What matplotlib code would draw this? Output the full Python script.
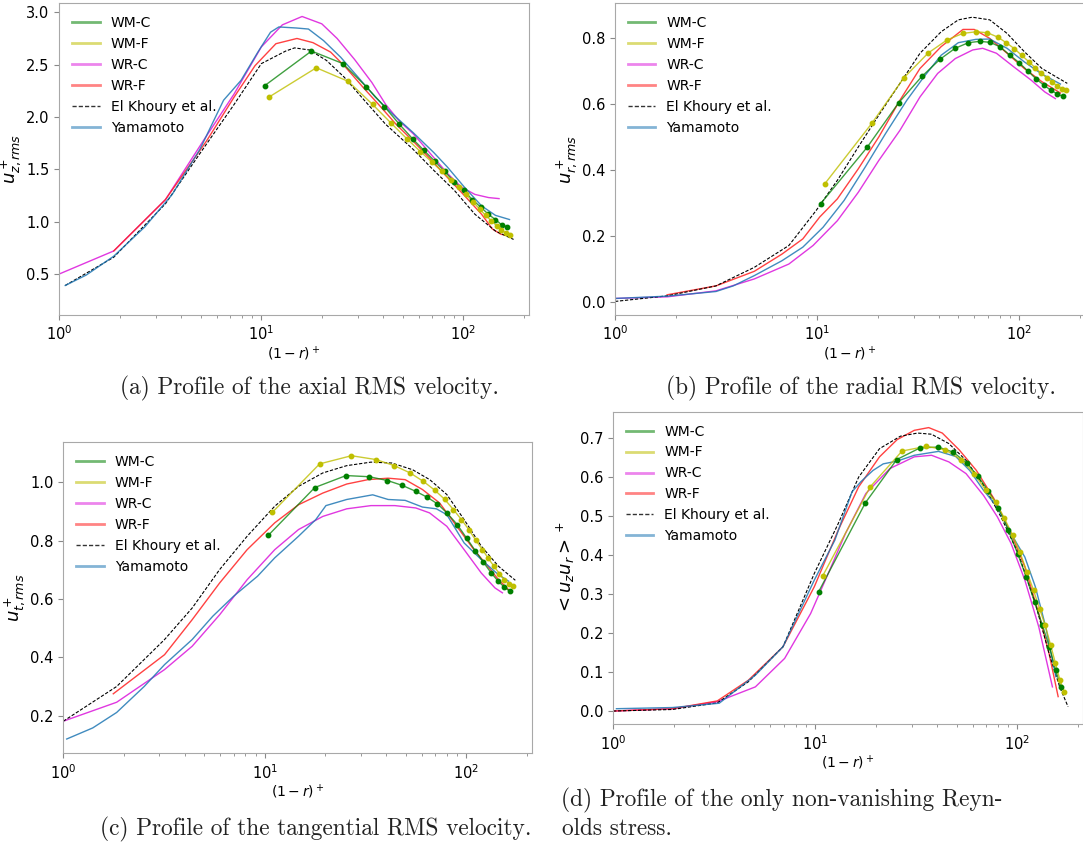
import matplotlib
matplotlib.use("Agg")
import matplotlib.pyplot as plt
from matplotlib.lines import Line2D

# ---------------- data ----------------
labels = ["WM-C", "WM-F", "WR-C", "WR-F", "El Khoury et al.", "Yamamoto"]

# wall-modelled grid points (shared across panels)
wmc_x = [10.4, 17.7, 25.3, 33.0, 40.6, 48.2, 56.1, 63.8, 71.9, 80.6, 90.1, 100.2,
         110.6, 121.5, 132.9, 143.8, 154.5, 164.1]
wmf_x = [10.9, 18.7, 26.9, 35.5, 43.9, 52.6, 61.2, 69.7, 78.2, 86.3, 94.6, 102.8,
         111.4, 120.1, 128.6, 137.1, 146.0, 154.2, 162.4, 170.2]

# (a) axial RMS
a_wmc = [2.30, 2.63, 2.51, 2.29, 2.10, 1.93, 1.79, 1.68, 1.58, 1.48, 1.38, 1.30,
         1.21, 1.14, 1.07, 1.02, 0.97, 0.95]
a_wmf = [2.19, 2.47, 2.34, 2.12, 1.94, 1.79, 1.67, 1.57, 1.48, 1.40, 1.33, 1.26,
         1.19, 1.12, 1.06, 1.01, 0.96, 0.92, 0.89, 0.87]
a_wrc_x = [1.0, 1.86, 3.35, 5.15, 7.33, 10.0, 12.7, 15.9, 19.9, 23.7, 28.9, 35.2,
           41.2, 48.2, 56.4, 68.6, 83.4, 97.6, 114, 133, 150]
a_wrc = [0.50, 0.72, 1.21, 1.77, 2.22, 2.67, 2.88, 2.96, 2.89, 2.75, 2.55, 2.33,
         2.12, 1.96, 1.84, 1.65, 1.46, 1.33, 1.26, 1.23, 1.22]
a_wrf_x = [1.86, 3.35, 5.35, 7.33, 9.3, 11.8, 15.0, 18.0, 22.0, 25.7, 32.3, 38.0,
           46.4, 56.3, 68.5, 83.5, 101, 123, 139, 153, 162]
a_wrf = [0.72, 1.21, 1.77, 2.19, 2.49, 2.70, 2.75, 2.71, 2.62, 2.49, 2.27, 2.12,
         1.93, 1.77, 1.60, 1.42, 1.25, 1.07, 0.93, 0.88, 0.87]
a_elk_x = [1.07, 1.86, 3.35, 4.96, 7.33, 10.0, 13.2, 14.6, 17.3, 21.0, 25.7, 32.3,
           41.2, 56.4, 71.3, 90.0, 114, 144, 177]
a_elk = [0.39, 0.66, 1.17, 1.65, 2.12, 2.51, 2.63, 2.66, 2.64, 2.54, 2.38, 2.16,
         1.93, 1.69, 1.49, 1.30, 1.07, 0.91, 0.83]
a_yam_x = [1.07, 1.36, 1.86, 2.65, 3.62, 4.96, 6.5, 7.93, 9.61, 11.1, 12.2, 14.9,
           17.1, 20.3, 24.7, 30.1, 36.6, 44.5, 56.4, 71.3, 83.4, 101, 123, 144, 169]
a_yam = [0.39, 0.49, 0.67, 0.95, 1.26, 1.69, 2.16, 2.35, 2.62, 2.81, 2.86, 2.85,
         2.84, 2.73, 2.57, 2.38, 2.19, 2.03, 1.85, 1.66, 1.52, 1.33, 1.15, 1.06, 1.02]

# (b) radial RMS
b_wmc = [0.298, 0.469, 0.603, 0.683, 0.735, 0.768, 0.785, 0.789, 0.786, 0.772,
         0.747, 0.724, 0.699, 0.675, 0.656, 0.641, 0.630, 0.623]
b_wmf = [0.358, 0.542, 0.679, 0.754, 0.793, 0.813, 0.818, 0.815, 0.802, 0.785,
         0.767, 0.747, 0.728, 0.709, 0.693, 0.678, 0.666, 0.654, 0.646, 0.641]
b_wrc_x = [1.0, 1.82, 3.16, 4.89, 7.25, 9.55, 12.6, 16.0, 20.2, 25.7, 32.3, 39.5,
           48.3, 58.9, 66.0, 77.2, 94.0, 114.5, 134, 151]
b_wrc = [0.012, 0.017, 0.035, 0.071, 0.116, 0.172, 0.247, 0.333, 0.429, 0.520,
         0.621, 0.692, 0.737, 0.763, 0.768, 0.753, 0.712, 0.672, 0.636, 0.616]
b_wrf_x = [1.81, 3.16, 4.89, 6.7, 8.5, 10.3, 12.6, 16.0, 20.2, 25.7, 32.3, 41.1,
           52.7, 59.9, 71.5, 87.1, 106, 129.6, 160]
b_wrf = [0.023, 0.050, 0.094, 0.146, 0.192, 0.258, 0.313, 0.404, 0.500, 0.611,
         0.707, 0.773, 0.825, 0.825, 0.798, 0.753, 0.707, 0.667, 0.633]
b_elk_x = [1.0, 1.82, 3.16, 4.89, 7.25, 9.9, 12.6, 16.0, 20.2, 25.7, 32.3, 41.1,
           50.0, 58.6, 71.5, 87.1, 106, 129.6, 173]
b_elk = [0.003, 0.020, 0.050, 0.106, 0.172, 0.278, 0.369, 0.470, 0.566, 0.662,
         0.753, 0.818, 0.854, 0.862, 0.854, 0.813, 0.758, 0.707, 0.662]
b_yam_x = [1.0, 1.82, 3.16, 3.85, 4.89, 6.7, 8.5, 10.7, 13.6, 17.3, 21.8, 27.8,
           33.8, 41.1, 50.0, 61.0, 71.5, 87.1, 106, 129.6, 160]
b_yam = [0.012, 0.019, 0.033, 0.050, 0.081, 0.126, 0.167, 0.227, 0.308, 0.409,
         0.510, 0.611, 0.682, 0.747, 0.785, 0.795, 0.796, 0.768, 0.727, 0.690, 0.660]

# (c) tangential RMS
c_wmc = [0.818, 0.982, 1.023, 1.019, 1.006, 0.989, 0.969, 0.949, 0.926, 0.893,
         0.855, 0.809, 0.766, 0.726, 0.689, 0.661, 0.640, 0.627]
c_wmf = [0.897, 1.063, 1.091, 1.078, 1.057, 1.032, 1.003, 0.973, 0.941, 0.906,
         0.872, 0.838, 0.801, 0.769, 0.739, 0.712, 0.687, 0.666, 0.653, 0.646]
c_wrc_x = [1.0, 1.84, 3.18, 4.36, 5.97, 8.17, 11.2, 14.7, 19.4, 25.5, 33.6, 44.2,
           56.1, 65.7, 80.0, 97.5, 118.6, 138.6, 151]
c_wrc = [0.181, 0.246, 0.358, 0.438, 0.546, 0.666, 0.769, 0.838, 0.883, 0.909,
         0.920, 0.920, 0.912, 0.895, 0.849, 0.769, 0.689, 0.638, 0.621]
c_wrf_x = [1.77, 3.18, 4.36, 5.97, 8.17, 11.2, 14.7, 19.4, 25.5, 32.5, 40.9, 49.7,
           60.6, 73.7, 89.7, 109, 128, 144.4, 162]
c_wrf = [0.275, 0.409, 0.529, 0.655, 0.769, 0.861, 0.923, 0.963, 0.994, 1.009,
         1.014, 1.009, 0.975, 0.929, 0.849, 0.769, 0.712, 0.666, 0.632]
c_elk_x = [1.0, 1.84, 3.18, 4.36, 5.97, 8.17, 11.2, 14.7, 19.4, 25.5, 33.6, 42.7,
           54.1, 65.8, 80.0, 97.5, 118.6, 144.4, 175]
c_elk = [0.181, 0.300, 0.461, 0.569, 0.701, 0.815, 0.918, 0.986, 1.032, 1.057,
         1.069, 1.066, 1.043, 1.009, 0.958, 0.872, 0.781, 0.712, 0.664]
c_yam_x = [1.04, 1.4, 1.84, 2.52, 3.18, 4.36, 5.52, 6.99, 9.2, 11.2, 14.7, 17.9,
           20.1, 25.5, 34.3, 40.9, 49.7, 60.6, 71.0, 80.0, 97.5, 118.6, 144.4, 162]
c_yam = [0.120, 0.158, 0.211, 0.300, 0.375, 0.461, 0.541, 0.609, 0.678, 0.741,
         0.815, 0.872, 0.920, 0.941, 0.957, 0.941, 0.938, 0.915, 0.909, 0.889,
         0.792, 0.735, 0.683, 0.661]

# (d) Reynolds stress
d_wmc = [0.306, 0.534, 0.645, 0.675, 0.677, 0.664, 0.636, 0.602, 0.564, 0.522,
         0.464, 0.404, 0.344, 0.280, 0.220, 0.165, 0.105, 0.062]
d_wmf = [0.347, 0.575, 0.667, 0.679, 0.670, 0.645, 0.609, 0.566, 0.536, 0.494,
         0.451, 0.408, 0.357, 0.310, 0.263, 0.220, 0.169, 0.122, 0.079, 0.050]
d_wrc_x = [1.0, 1.97, 3.28, 5.06, 7.06, 9.49, 11.6, 14.1, 17.8, 23.4, 30.9, 37.6,
           45.8, 55.7, 68.0, 79.6, 93.0, 108.8, 127.5, 149]
d_wrc = [0.000, 0.006, 0.024, 0.062, 0.135, 0.250, 0.353, 0.455, 0.558, 0.622,
         0.652, 0.656, 0.639, 0.609, 0.553, 0.498, 0.430, 0.336, 0.216, 0.062]
d_wrf_x = [1.0, 1.97, 3.28, 4.67, 6.93, 9.9, 13.0, 16.4, 20.8, 25.4, 30.9, 36.4,
           42.5, 51.5, 62.7, 76.5, 93.0, 108.8, 127.5, 143.3, 159]
d_wrf = [0.000, 0.006, 0.026, 0.079, 0.165, 0.319, 0.464, 0.575, 0.652, 0.696,
         0.720, 0.727, 0.713, 0.670, 0.617, 0.545, 0.455, 0.370, 0.250, 0.148, 0.037]
d_elk_x = [1.0, 1.97, 3.28, 4.67, 6.93, 9.9, 13.0, 16.4, 20.8, 26.4, 32.1, 37.6,
           45.8, 55.7, 68.0, 82.9, 101, 122.6, 143.3, 161.8, 178]
d_elk = [0.000, 0.004, 0.021, 0.075, 0.165, 0.353, 0.481, 0.600, 0.673, 0.705,
         0.713, 0.710, 0.686, 0.643, 0.579, 0.498, 0.404, 0.276, 0.148, 0.062, 0.011]
d_yam_x = [1.04, 1.97, 3.35, 5.06, 6.93, 9.9, 12.5, 15.2, 16.8, 19.3, 21.7, 25.4,
           30.9, 40.7, 49.5, 58.1, 68.0, 79.6, 93.0, 108.8, 122.6, 138, 155]
d_yam = [0.006, 0.009, 0.020, 0.092, 0.165, 0.336, 0.438, 0.562, 0.588, 0.617,
         0.634, 0.641, 0.656, 0.666, 0.653, 0.617, 0.566, 0.523, 0.455, 0.395,
         0.319, 0.216, 0.088]

xlabel = r'$(1-r)^+$'
ylabels = [r'$u^+_{z,rms}$', r'$u^+_{r,rms}$', r'$u^+_{t,rms}$', r'$<u_zu_r>^+$']
yticks = [[0.5, 1.0, 1.5, 2.0, 2.5, 3.0],
          [0.0, 0.2, 0.4, 0.6, 0.8],
          [0.2, 0.4, 0.6, 0.8, 1.0],
          [0.0, 0.1, 0.2, 0.3, 0.4, 0.5, 0.6, 0.7]]
ylims = [(0.108, 3.086), (-0.038, 0.904), (0.071, 1.137), (-0.034, 0.767)]
captions = ["(a) Profile of the axial RMS velocity.",
            "(b) Profile of the radial RMS velocity.",
            "(c) Profile of the tangential RMS velocity.",
            "(d) Profile of the only non-vanishing Reyn-",
            "olds stress."]

# ---------------- styling ----------------
W, H = 1083, 846
col_wmc = 'green'
col_wmf = '#bfbf00'
col_wrc = '#dd22dd'
col_wrf = '#ff2020'
col_elk = 'black'
col_yam = '#1f77b4'
spine_col = '#a8a8a8'

fig = plt.figure(figsize=(W / 100, H / 100), dpi=100)

# axes boxes in pixels: left, top, width, height
boxes = [(59.3, 3.3, 469.7, 311.7),
         (615.0, 3.3, 469.7, 311.7),
         (63.3, 442.3, 468.4, 311.0),
         (613.0, 412.0, 470.0, 312.3)]

panels = [
    (a_wmc, a_wmf, a_wrc_x, a_wrc, a_wrf_x, a_wrf, a_elk_x, a_elk, a_yam_x, a_yam),
    (b_wmc, b_wmf, b_wrc_x, b_wrc, b_wrf_x, b_wrf, b_elk_x, b_elk, b_yam_x, b_yam),
    (c_wmc, c_wmf, c_wrc_x, c_wrc, c_wrf_x, c_wrf, c_elk_x, c_elk, c_yam_x, c_yam),
    (d_wmc, d_wmf, d_wrc_x, d_wrc, d_wrf_x, d_wrf, d_elk_x, d_elk, d_yam_x, d_yam),
]

for i, (box, pdata) in enumerate(zip(boxes, panels)):
    l, t, w, h = box
    ax = fig.add_axes([l / W, 1 - (t + h) / H, w / W, h / H])
    wmc, wmf, wrcx, wrc, wrfx, wrf, elkx, elk, yamx, yam = pdata
    ax.plot(wmc_x, wmc, color=col_wmc, lw=1.0, alpha=0.75, zorder=3)
    ax.plot(wmc_x, wmc, ls='none', marker='o', ms=3.2, color=col_wmc, zorder=4)
    ax.plot(wmf_x, wmf, color=col_wmf, lw=1.0, alpha=0.8, zorder=3)
    ax.plot(wmf_x, wmf, ls='none', marker='o', ms=3.2, color=col_wmf, zorder=4)
    ax.plot(wrcx, wrc, color=col_wrc, lw=1.0, alpha=0.9, zorder=2)
    ax.plot(wrfx, wrf, color=col_wrf, lw=1.0, alpha=0.85, zorder=2)
    ax.plot(elkx, elk, color=col_elk, lw=0.8, ls=(0, (3, 1.5)), zorder=2)
    ax.plot(yamx, yam, color=col_yam, lw=1.0, alpha=0.85, zorder=2)

    ax.set_xscale('log')
    ax.set_xlim(1, 211)
    ax.set_ylim(*ylims[i])
    ax.set_yticks(yticks[i])
    ax.set_yticklabels([f"{v:.1f}" for v in yticks[i]])
    for s in ax.spines.values():
        s.set_color(spine_col)
    ax.tick_params(axis='both', which='both', colors='#888888', labelcolor='black',
                   labelsize=10.5)
    ax.set_xlabel(xlabel, fontsize=10, labelpad=1)
    ax.set_ylabel(ylabels[i], fontsize=13, labelpad=2)

    handles = [
        Line2D([], [], color=col_wmc, lw=2.0, alpha=0.55),
        Line2D([], [], color=col_wmf, lw=2.0, alpha=0.55),
        Line2D([], [], color=col_wrc, lw=2.0, alpha=0.55),
        Line2D([], [], color=col_wrf, lw=2.0, alpha=0.55),
        Line2D([], [], color=col_elk, lw=1.0, ls=(0, (3, 1.5)), alpha=0.8),
        Line2D([], [], color=col_yam, lw=2.0, alpha=0.55),
    ]
    ax.legend(handles, labels, loc='upper left', frameon=False, fontsize=10)

cap_font = dict(family='cmr10', fontsize=16.8, color='#222222', va='center', ha='left')
fig.text(120 / W, 1 - 388 / H, captions[0], **cap_font)
fig.text(666 / W, 1 - 388 / H, captions[1], **cap_font)
fig.text(100 / W, 1 - 829 / H, captions[2], **cap_font)
fig.text(561 / W, 1 - 800 / H, captions[3], **cap_font)
fig.text(562 / W, 1 - 829 / H, captions[4], **cap_font)

fig.savefig("out.png", dpi=100)
